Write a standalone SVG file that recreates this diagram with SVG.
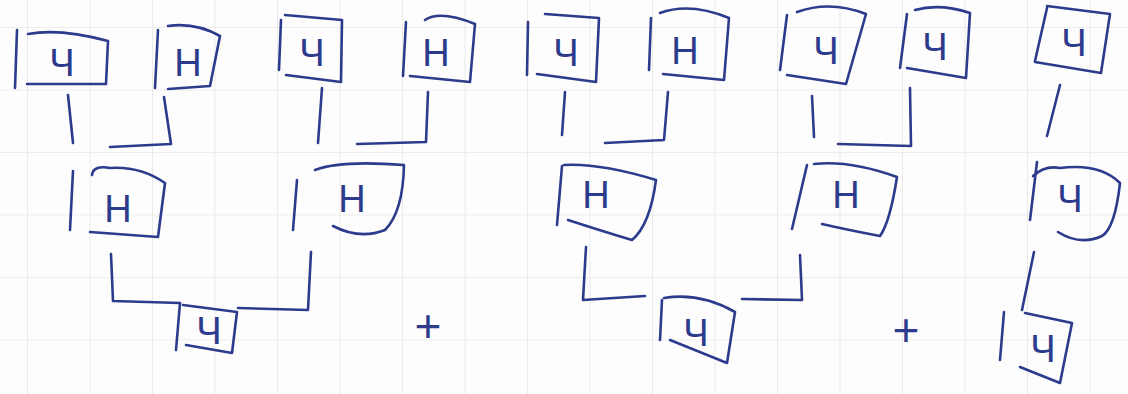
<svg xmlns="http://www.w3.org/2000/svg" width="1128" height="394" viewBox="0 0 1128 394">
<defs>
<pattern id="grid" x="27" y="27" width="62.5" height="62.5" patternUnits="userSpaceOnUse">
<path d="M0,0 H62.5 M0,0 V62.5" fill="none" stroke="#dedede" stroke-width="1.2"/>
</pattern>
</defs>
<style>
.s{fill:none;stroke:#2c3b8c;stroke-width:2.6;stroke-linecap:round;stroke-linejoin:round}
.t{fill:#2c3b8c;font-family:"Liberation Sans","DejaVu Sans",sans-serif;font-size:38px;text-anchor:middle}
.p{fill:#2c3b8c;font-family:"Liberation Sans","DejaVu Sans",sans-serif;font-size:46px;text-anchor:middle}
</style>
<rect width="1128" height="394" fill="#fdfdfd"/>
<rect width="1128" height="394" fill="url(#grid)"/>

<g id="t1"><path class="s" d="M17,30 L15,88"/><path class="s" d="M28,34 Q60,28 108,41 L106,84 L27,84"/><text class="t" x="62" y="76">Ч</text></g>
<g id="t2"><path class="s" d="M158,30 L155,88"/><path class="s" d="M168,26 Q195,22 220,36 L210,86 L168,89"/><text class="t" x="188" y="76">Н</text></g>
<g id="t3"><path class="s" d="M281,20 L279,70"/><path class="s" d="M285,15 L342,20 L341,82 L286,75"/><text class="t" x="312" y="66">Ч</text></g>
<g id="t4"><path class="s" d="M406,22 L403,76"/><path class="s" d="M425,20 Q440,10 475,24 L470,82 L410,76"/><text class="t" x="436" y="66">Н</text></g>
<g id="t5"><path class="s" d="M528,22 L527,75"/><path class="s" d="M545,14 L599,18 L596,82 L537,74"/><text class="t" x="566" y="66">Ч</text></g>
<g id="t6"><path class="s" d="M651,18 L649,70"/><path class="s" d="M660,13 Q690,2 729,18 L724,80 L663,74"/><text class="t" x="685" y="64">Н</text></g>
<g id="t7"><path class="s" d="M787,15 L780,70"/><path class="s" d="M797,12 Q830,0 866,14 L846,84 L787,75"/><text class="t" x="826" y="64">Ч</text></g>
<g id="t8"><path class="s" d="M907,14 L900,68"/><path class="s" d="M915,10 Q940,3 970,13 L966,78 L907,68"/><text class="t" x="935" y="60">Ч</text></g>
<g id="t9"><path class="s" d="M1047,8 L1035,61"/><path class="s" d="M1047,6 L1110,14 L1101,73 L1035,62"/><text class="t" x="1074" y="56">Ч</text></g>

<g id="m1"><path class="s" d="M73,171 L70,230"/><path class="s" d="M92,175 Q93,165 110,168 Q140,166 165,183 L158,237 L90,232"/><text class="t" x="118" y="222">Н</text></g>
<g id="m2"><path class="s" d="M297,180 L293,230"/><path class="s" d="M315,170 Q340,160 404,165 Q403,212 385,230 Q360,240 333,226"/><text class="t" x="352" y="212">Н</text></g>
<g id="m3"><path class="s" d="M562,166 L557,225"/><path class="s" d="M564,165 Q600,163 656,180 Q650,225 632,240 Q605,232 568,220"/><text class="t" x="596" y="208">Н</text></g>
<g id="m4"><path class="s" d="M807,165 L792,229"/><path class="s" d="M814,164 Q850,160 897,177 Q890,222 880,236 Q848,230 822,224"/><text class="t" x="846" y="208">Н</text></g>
<g id="m5"><path class="s" d="M1037,162 L1030,220"/><path class="s" d="M1033,176 Q1045,165 1060,168 Q1100,163 1120,183 Q1115,228 1102,236 Q1080,246 1058,232"/><text class="t" x="1070" y="212">Ч</text></g>

<g id="b1"><path class="s" d="M180,303 L176,350"/><path class="s" d="M183,305 L237,312 L232,353 L186,345"/><text class="t" x="209" y="344">Ч</text></g>
<g id="b2"><path class="s" d="M662,300 L660,340"/><path class="s" d="M664,298 Q700,292 735,312 L727,363 L670,340"/><text class="t" x="696" y="346">Ч</text></g>
<g id="b3"><path class="s" d="M1004,312 L1000,360"/><path class="s" d="M1025,313 L1072,323 L1060,383 L1020,367"/><text class="t" x="1043" y="362">Ч</text></g>

<g id="connectors">
<path class="s" d="M68,95 L73,143"/>
<path class="s" d="M110,147 L171,144 L164,97"/>
<path class="s" d="M322,88 L318,143"/>
<path class="s" d="M357,144 L426,142 L428,92"/>
<path class="s" d="M565,92 L562,135"/>
<path class="s" d="M605,143 L664,140 L668,92"/>
<path class="s" d="M812,96 L814,137"/>
<path class="s" d="M838,144 L911,146 L910,88"/>
<path class="s" d="M1060,85 L1047,136"/>
<path class="s" d="M111,254 L113,301 L180,303"/>
<path class="s" d="M238,308 L308,310 L311,252"/>
<path class="s" d="M586,247 L583,300 L645,296"/>
<path class="s" d="M742,299 L802,300 L800,255"/>
<path class="s" d="M1034,252 L1022,310"/>
</g>
<text class="p" x="428" y="342">+</text>
<text class="p" x="906" y="346">+</text>
</svg>
